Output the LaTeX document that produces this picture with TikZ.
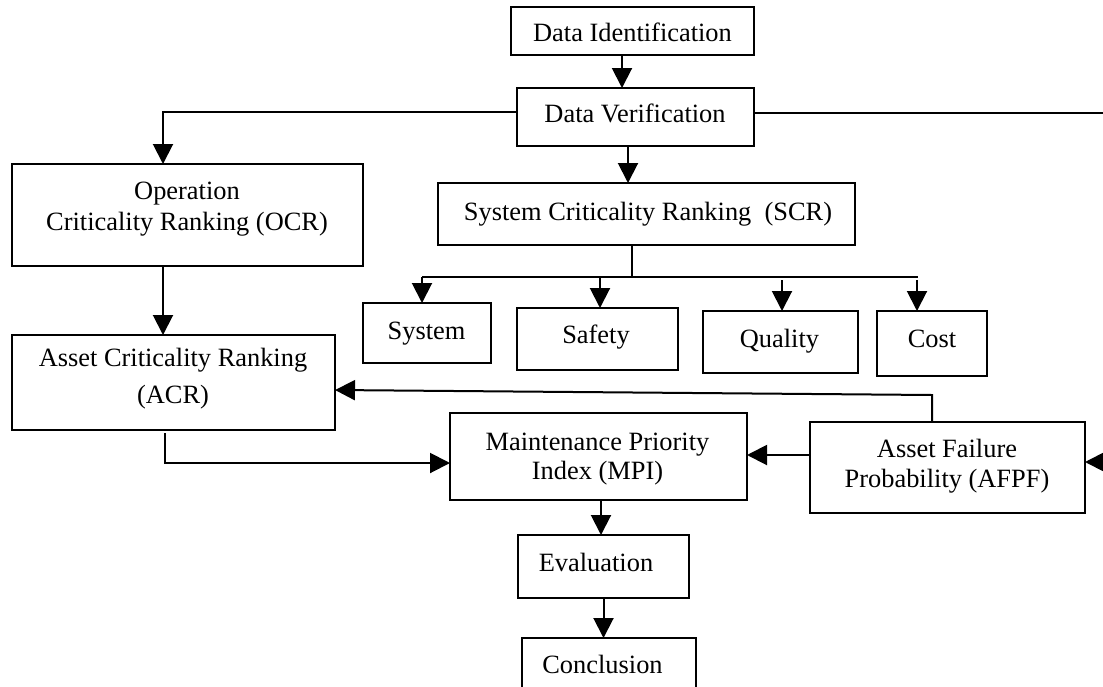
\documentclass[tikz,border=0pt]{standalone}
\usepackage{fontspec}
\setmainfont{Liberation Serif}
\usetikzlibrary{arrows.meta}
\begin{document}
\begin{tikzpicture}[x=1pt,y=-1pt,
  box/.style={draw, line width=2pt, inner sep=0pt, outer sep=0pt},
  lbl/.style={inner sep=0pt, anchor=base, font=\fontsize{26.4pt}{31.7pt}\selectfont},
  link/.style={line width=2pt},
  arr/.style={link, -{Triangle[length=20pt,width=20pt]}}]
\fill[white] (0,0) rectangle (1103,686);
\useasboundingbox (0,0) rectangle (1103,686);

% boxes
\node[box, minimum width=243pt, minimum height=48pt] (di) at (632.5,31) {};
\node[box, minimum width=237pt, minimum height=58pt] (dv) at (635.5,117) {};
\node[box, minimum width=351pt, minimum height=102pt] (ocr) at (187.5,215) {};
\node[box, minimum width=417pt, minimum height=62pt] (scr) at (646.5,214) {};
\node[box, minimum width=128pt, minimum height=60pt] (sys) at (427,333) {};
\node[box, minimum width=161pt, minimum height=62pt] (saf) at (597.5,339) {};
\node[box, minimum width=155pt, minimum height=62pt] (qua) at (780.5,342) {};
\node[box, minimum width=110pt, minimum height=65pt] (cost) at (932,343.5) {};
\node[box, minimum width=323pt, minimum height=95pt] (acr) at (173.5,382.5) {};
\node[box, minimum width=297pt, minimum height=87pt] (mpi) at (598.5,456.5) {};
\node[box, minimum width=275pt, minimum height=91pt] (afpf) at (947.5,467.5) {};
\node[box, minimum width=171pt, minimum height=63pt] (evl) at (603.5,566.5) {};
\node[box, minimum width=174pt, minimum height=62pt] (conc) at (609,669) {};

% box texts
\node[lbl] (di-t) at (632.5,41) {Data Identification};
\node[lbl] (dv-t) at (635,122) {Data Verification};
\node[lbl] (ocr-t1) at (187,199) {Operation};
\node[lbl] (ocr-t2) at (187,230) {Criticality Ranking (OCR)};
\node[lbl] (scr-t) at (648,220) {System Criticality Ranking~ (SCR)};
\node[lbl] (sys-t) at (426.5,339) {System};
\node[lbl] (saf-t) at (596,343) {Safety};
\node[lbl] (qua-t) at (779.5,347) {Quality};
\node[lbl] (cost-t) at (932,347) {Cost};
\node[lbl] (acr-t1) at (173,366) {Asset Criticality Ranking};
\node[lbl] (acr-t2) at (173,403) {(ACR)};
\node[lbl] (mpi-t1) at (597.5,450) {Maintenance Priority};
\node[lbl] (mpi-t2) at (597.5,479) {Index (MPI)};
\node[lbl] (afpf-t1) at (947,457) {Asset Failure};
\node[lbl] (afpf-t2) at (947,487) {Probability (AFPF)};
\node[lbl] (evl-t) at (596,571) {Evaluation};
\node[lbl] (conc-t) at (602.5,673) {Conclusion};

% connectors
\draw[arr] ([xshift=-10.5pt]di.south) -- ([xshift=-10.5pt]di.south |- dv.north);
\draw[arr] ([xshift=-7.5pt]dv.south) -- ([xshift=-7.5pt]dv.south |- scr.north);
\draw[arr] ([yshift=5pt]dv.west) -| ([xshift=-24.5pt]ocr.north);
\coordinate (edgeA) at (1103,113);
\coordinate (edgeB) at (1103,462);
\draw[link] (edgeA -| dv.east) -- (edgeA);
\draw[arr] (edgeB) -- (edgeB -| afpf.east);
\draw[arr] ([xshift=-24.5pt]ocr.south) -- ([xshift=-24.5pt]ocr.south |- acr.north);

% fan-out below SCR
\coordinate (fanL) at (422,277);
\coordinate (fanR) at (918,277);
\draw[link] ([xshift=-14.5pt]scr.south) -- ([xshift=-14.5pt]scr.south |- fanL);
\draw[link] (fanL) -- (fanR);
\draw[arr] (fanL) -- (fanL |- sys.north);
\draw[arr] ([xshift=2.5pt]saf.north |- fanL) -- ([xshift=2.5pt]saf.north);
\draw[arr] ([xshift=1.5pt,yshift=31pt]qua.north) -- ([xshift=1.5pt]qua.north);
\draw[arr] ([xshift=-15pt,yshift=31pt]cost.north) -- ([xshift=-15pt]cost.north);

\draw[arr] ([xshift=-8.5pt,yshift=-3pt]acr.south) |- ([yshift=-6.5pt]mpi.west);
\draw[arr] ([yshift=12.5pt]afpf.west) -- ([yshift=12.5pt]afpf.west -| mpi.east);
\draw[arr] ([xshift=-15.5pt]afpf.north) -- ++(0,-27) -- ([yshift=-7.5pt]acr.east);
\draw[arr] ([xshift=2.5pt]mpi.south) -- ([xshift=2.5pt]mpi.south |- evl.north);
\draw[arr] (evl.south) -- (evl.south |- conc.north);
\end{tikzpicture}
\end{document}
